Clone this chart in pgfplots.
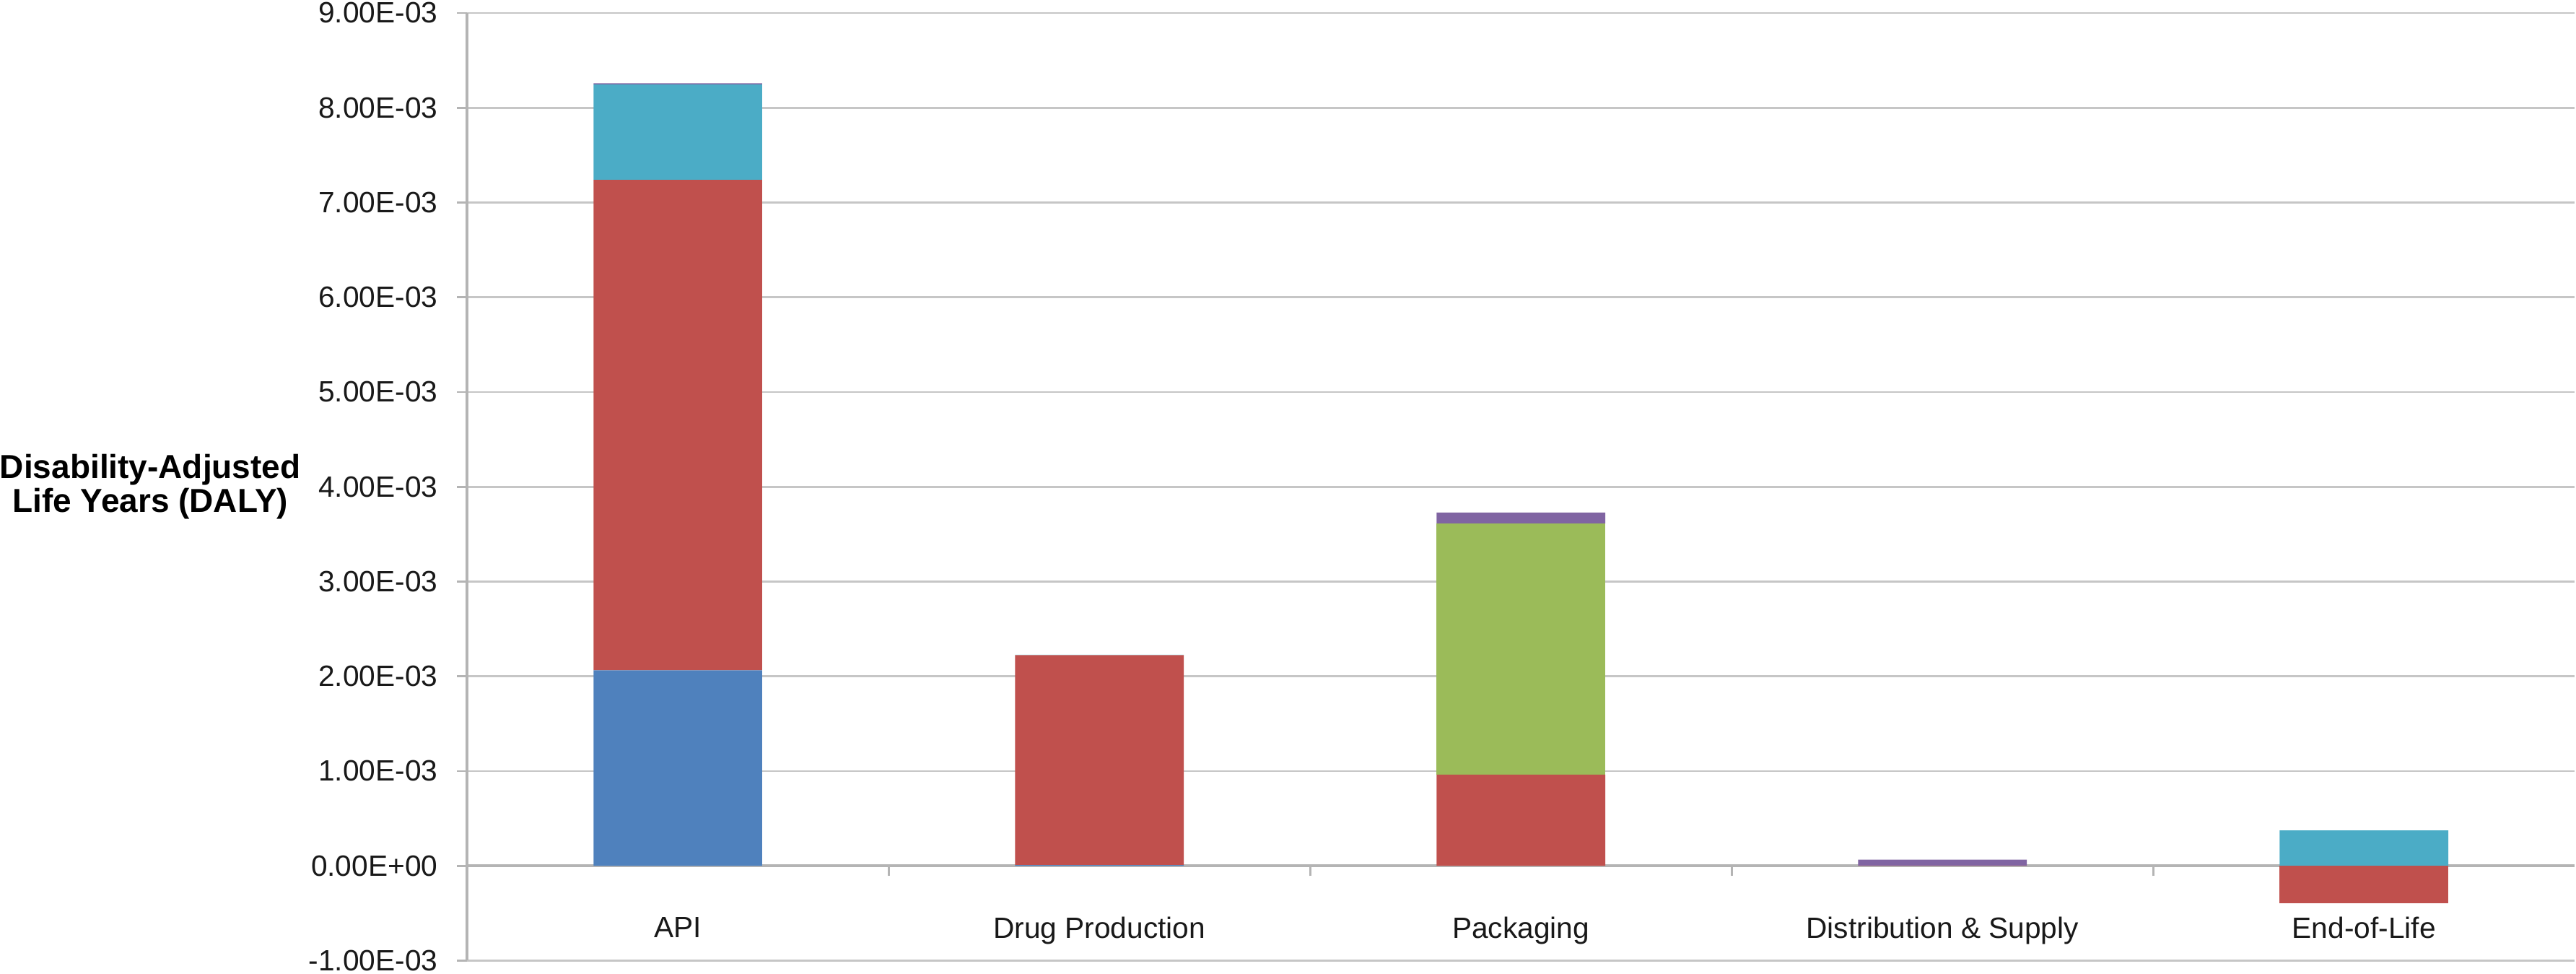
\documentclass[border=0pt]{standalone}
\usepackage{pgfplots}
\pgfplotsset{compat=1.18}
\usepackage{fontspec}
\setmainfont{Liberation Sans}
\definecolor{cBlue}{HTML}{4F81BD}
\definecolor{cRed}{HTML}{C0504D}
\definecolor{cGreen}{HTML}{9BBB59}
\definecolor{cTeal}{HTML}{4BACC6}
\definecolor{cPurple}{HTML}{8064A2}
\definecolor{gridgray}{HTML}{C6C6C6}
\definecolor{axgray}{HTML}{B4B4B4}
\pgfplotsset{common/.style={width=825.4pt,height=371pt,scale only axis,
  xmin=-0.5,xmax=4.5,ymin=-0.001,ymax=0.009,bar width=0.4}}
\begin{document}
\begin{tikzpicture}
\begin{axis}[common, ybar stacked,
  axis x line*=middle, axis y line*=left,
  hide obscured x ticks=false, hide obscured y ticks=false,
  xtick={0,1,2,3,4},
  xticklabels={API,Drug Production,Packaging,Distribution \& Supply,End-of-Life},
  minor xtick={0.5,1.5,2.5,3.5},
  major x tick style={draw=none},
  minor x tick style={axgray, line width=0.8pt},
  minor tick length=4pt,
  ytick={-0.001,0,0.001,0.002,0.003,0.004,0.005,0.006,0.007,0.008,0.009},
  yticklabels={-1.00E-03,0.00E+00,1.00E-03,2.00E-03,3.00E-03,4.00E-03,5.00E-03,6.00E-03,7.00E-03,8.00E-03,9.00E-03},
  scaled y ticks=false,
  ymajorgrids, grid style={gridgray, line width=0.8pt},
  axis line style={axgray, line width=1pt},
  y tick style={axgray, line width=0.8pt},
  tick align=outside, major tick length=4pt,
  ticklabel style={font=\fontsize{11.5}{12}\selectfont, text=black!90},
  xticklabel style={yshift=-12.5pt},
  yticklabel style={xshift=-4pt, inner ysep=1pt},
  ylabel={Disability-Adjusted\\Life Years (DALY)},
  every axis y label/.style={at={(axis description cs:0,0.5)}, anchor=east,
    xshift=-65pt, inner sep=0pt, align=center, font=\fontsize{13}{13.5}\selectfont\bfseries},
]
\addplot[fill=cBlue, draw=none] coordinates {(0,0.002063) (1,0.000008) (2,0) (3,0) (4,0)};
\addplot[fill=cRed, draw=none] coordinates {(0,0.005175) (1,0.002215) (2,0.000962) (3,0.000003) (4,0)};
\addplot[fill=cGreen, draw=none] coordinates {(0,0) (1,0) (2,0.002650) (3,0) (4,0)};
\addplot[fill=cTeal, draw=none] coordinates {(0,0.001009) (1,0.000005) (2,0) (3,0) (4,0.000374)};
\addplot[fill=cPurple, draw=none] coordinates {(0,0.000010) (1,0) (2,0.000117) (3,0.000062) (4,0)};
\end{axis}
\begin{axis}[common, hide axis, ybar stacked]
\addplot[fill=cRed, draw=none] coordinates {(4,-0.000395)};
\end{axis}
\end{tikzpicture}
\end{document}
